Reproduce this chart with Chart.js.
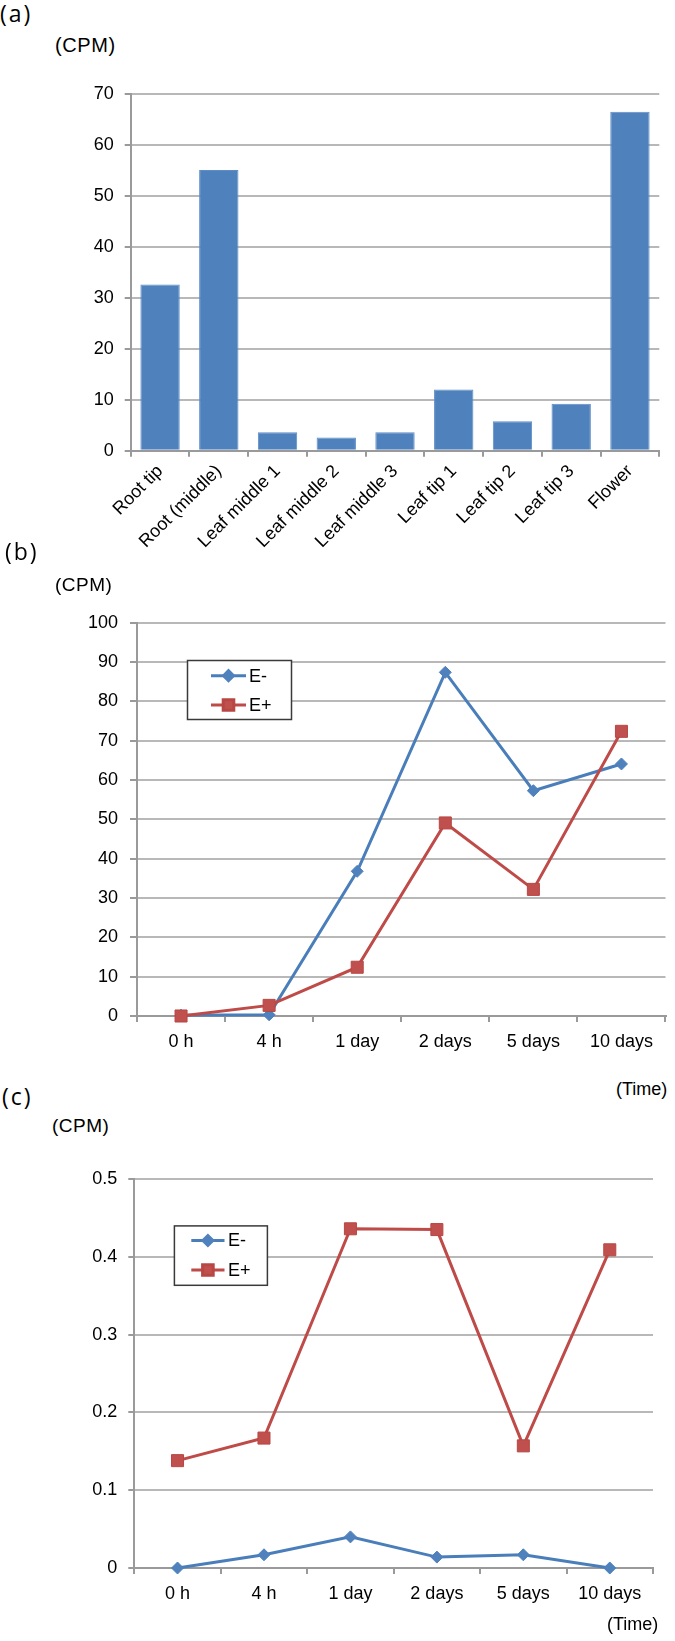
<!DOCTYPE html>
<html><head><meta charset="utf-8">
<script src="https://cdn.jsdelivr.net/npm/chart.js@4.4.1/dist/chart.umd.min.js"></script>
<style>
html,body{margin:0;padding:0;background:#fff;}
#page{position:relative;width:675px;height:1641px;overflow:hidden;background:#fff;}
canvas{position:absolute;left:0;}
.t{position:absolute;white-space:nowrap;line-height:1;color:#000;font-family:"Liberation Sans",Arial,sans-serif;}
.p{font-family:"Open Sans","Noto Sans",sans-serif;}
</style></head>
<body><div id="page">
<canvas id="ca" width="675" height="510" style="top:60px"></canvas>
<canvas id="cb" width="675" height="470" style="top:600px"></canvas>
<canvas id="cc" width="675" height="491" style="top:1150px"></canvas>
<div class="t p" style="left:0;top:2px;font-size:23px;letter-spacing:2px">(a)</div>
<div class="t" style="left:55px;top:35px;font-size:20px;letter-spacing:0.6px">(CPM)</div>
<div class="t p" style="left:5px;top:540px;font-size:23px;letter-spacing:2px">(b)</div>
<div class="t" style="left:55px;top:575px;font-size:19px;letter-spacing:0.5px">(CPM)</div>
<div class="t" style="left:616px;top:1080px;font-size:18px">(Time)</div>
<div class="t p" style="left:2px;top:1085px;font-size:23px;letter-spacing:2px">(c)</div>
<div class="t" style="left:52px;top:1116px;font-size:19px;letter-spacing:0.5px">(CPM)</div>
<div class="t" style="left:607px;top:1615px;font-size:18px">(Time)</div>
</div>
<script>
// ---- data ----
const tissueCategories = ['Root tip','Root (middle)','Leaf middle 1','Leaf middle 2','Leaf middle 3','Leaf tip 1','Leaf tip 2','Leaf tip 3','Flower'];
const tissueCPM = [32.6, 55.1, 3.6, 2.6, 3.6, 12.0, 5.8, 9.2, 66.5];
const yTicksA = ['0','10','20','30','40','50','60','70'];

const timeCategories = ['0 h','4 h','1 day','2 days','5 days','10 days'];
const seriesNames = ['E-','E+'];
const bEminus = [0.2, 0.3, 36.8, 87.4, 57.3, 64.1];
const bEplus = [0, 2.7, 12.4, 49.1, 32.2, 72.4];
const yTicksB = ['0','10','20','30','40','50','60','70','80','90','100'];

const cEminus = [0, 0.017, 0.040, 0.014, 0.017, 0];
const cEplus = [0.138, 0.167, 0.436, 0.435, 0.157, 0.409];
const yTicksC = ['0','0.1','0.2','0.3','0.4','0.5'];

// ---- styles ----
const FONT = '"Liberation Sans", Arial, sans-serif';
const GRID = '#b8b8b8';
const AXIS = '#9a9a9a';
const BLUE = '#4f81bd';
const BLUE_LINE = '#4a7ebb';
const RED = '#c0504d';
const RED_LINE = '#be4b48';

const boxLegend = {
  id: 'boxLegend',
  afterDatasetsDraw(chart, args, o) {
    if (!o || !o.w) return;
    const ctx = chart.ctx;
    ctx.save();
    ctx.fillStyle = '#fff';
    ctx.fillRect(o.x, o.y, o.w, o.h);
    ctx.strokeStyle = '#3a3a3a';
    ctx.lineWidth = 1.5;
    ctx.strokeRect(o.x, o.y, o.w, o.h);
    chart.data.datasets.forEach((ds, i) => {
      const y = o.rowY[i];
      ctx.strokeStyle = ds.borderColor;
      ctx.lineWidth = ds.borderWidth;
      ctx.beginPath();
      ctx.moveTo(o.x1, y); ctx.lineTo(o.x2, y);
      ctx.stroke();
      ctx.fillStyle = ds.pointBackgroundColor;
      ctx.strokeStyle = ds.pointBorderColor;
      Chart.helpers.drawPoint(ctx, {pointStyle: ds.pointStyle, radius: o.r[i], borderWidth: 1, rotation: 0}, (o.x1 + o.x2) / 2, y);
      ctx.fillStyle = '#000';
      ctx.font = '18px ' + FONT;
      ctx.textBaseline = 'middle';
      ctx.textAlign = 'left';
      ctx.fillText(ds.label, o.tx, y + 1);
    });
    ctx.restore();
  }
};
Chart.register(boxLegend);

function yScale(max, step, labels, width, tl, pad) {
  return {
    min: 0, max: max,
    ticks: {stepSize: step, autoSkip: false, padding: pad, color: '#000',
      font: {family: FONT, size: 18},
      callback: (v) => labels[Math.round(v / step)]},
    grid: {color: GRID, lineWidth: 2, tickLength: tl, drawTicks: true, tickColor: AXIS},
    border: {color: AXIS, width: 2},
    afterFit: (s) => { s.width = width; }
  };
}
function xScale(height, rot, pad) {
  return {
    offset: true,
    grid: {offset: true, drawOnChartArea: false, drawTicks: true, tickLength: 6, color: AXIS, lineWidth: 2},
    border: {color: AXIS, width: 2},
    ticks: {autoSkip: false, maxRotation: rot, minRotation: rot, padding: pad, color: '#000',
      font: {family: FONT, size: 18}},
    afterFit: (s) => { s.height = height; }
  };
}
const common = {
  responsive: false, animation: false, devicePixelRatio: 1,
  plugins: {legend: {display: false}, tooltip: {enabled: false}, title: {display: false}}
};

// (a)
new Chart(document.getElementById('ca'), {
  type: 'bar',
  data: {labels: tissueCategories,
    datasets: [{label: 'CPM', data: tissueCPM, backgroundColor: BLUE, borderColor: '#5d8cc6', borderWidth: 1,
      barPercentage: 0.67, categoryPercentage: 1}]},
  options: Object.assign({}, common, {
    layout: {padding: {top: 34, right: 15.7, left: 0, bottom: 0}},
    scales: {x: xScale(119.3, 45, 4), y: yScale(70, 10, yTicksA, 130.7, 6, 11)}
  })
});

function lineDatasets(em, ep) {
  return [
    {label: seriesNames[0], data: em, borderColor: BLUE_LINE, borderWidth: 3, tension: 0, order: 1, clip: false,
      pointStyle: 'rectRot', pointRadius: 6, pointBackgroundColor: BLUE, pointBorderColor: BLUE, pointBorderWidth: 1},
    {label: seriesNames[1], data: ep, borderColor: RED_LINE, borderWidth: 3, tension: 0, order: 0, clip: false,
      pointStyle: 'rect', pointRadius: 8.5, pointBackgroundColor: RED, pointBorderColor: '#b84744', pointBorderWidth: 1}
  ];
}

// (b)
new Chart(document.getElementById('cb'), {
  type: 'line',
  data: {labels: timeCategories, datasets: lineDatasets(bEminus, bEplus)},
  options: Object.assign({}, common, {
    layout: {padding: {top: 19.3, right: 1.5, left: 0, bottom: 0}},
    plugins: Object.assign({}, common.plugins, {boxLegend: {x: 187.5, y: 60.5, w: 104, h: 59, rowY: [75.7, 105], x1: 211, x2: 246, tx: 249, r: [5, 7.5]}}),
    scales: {x: xScale(54, 0, 9), y: yScale(100, 10, yTicksB, 137, 7, 12)}
  })
});

// (c)
new Chart(document.getElementById('cc'), {
  type: 'line',
  data: {labels: timeCategories, datasets: lineDatasets(cEminus, cEplus)},
  options: Object.assign({}, common, {
    layout: {padding: {top: 29, right: 22, left: 0, bottom: 0}},
    plugins: Object.assign({}, common.plugins, {boxLegend: {x: 174.4, y: 75.9, w: 93, h: 59.4, rowY: [90.5, 120], x1: 191.3, x2: 224.5, tx: 228, r: [5, 7.5]}}),
    scales: {x: xScale(73, 0, 9), y: yScale(0.5, 0.1, yTicksC, 134.3, 6, 11)}
  })
});
</script>
</body></html>
